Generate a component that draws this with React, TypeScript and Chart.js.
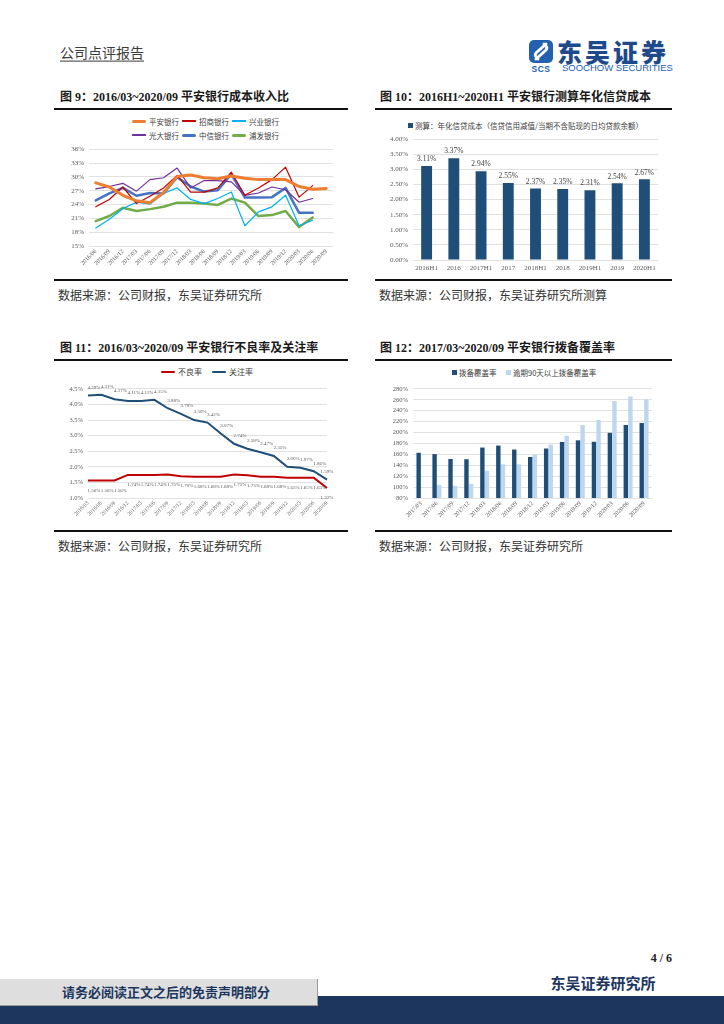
import React, { useEffect, useRef } from 'react';
import { Chart, registerables } from 'chart.js';

Chart.register(...registerables);

const SERIF = '"Liberation Serif", "Times New Roman", "Noto Sans CJK SC", serif';
const CJK = '"Noto Sans CJK SC", "Liberation Serif", serif';
const GRID = '#D9D9D9';
const TICK = '#595959';

// ---------- 图 9 成本收入比 ----------
const fig9Quarters = ['2016/06', '2016/09', '2016/12', '2017/03', '2017/06', '2017/09', '2017/12', '2018/03', '2018/06', '2018/09', '2018/12', '2019/03', '2019/06', '2019/09', '2019/12', '2020/03', '2020/06', '2020/09'];
const fig9PingAn = [28.7, 27.8, 26.0, 24.8, 24.4, 26.6, 30.1, 30.4, 29.8, 29.6, 30.2, 29.7, 29.4, 29.4, 29.4, 27.9, 27.3, 27.5];
const fig9Cmb = [23.5, 25.1, 27.8, 24.2, 25.8, 27.6, 30.3, 26.7, 26.7, 27.6, 31.0, 26.0, 27.6, 29.4, 32.1, 25.6, 28.1, null];
const fig9Cib = [18.9, 20.8, 23.1, 24.5, 24.1, 26.4, 27.6, 25.1, 24.2, 25.3, 26.7, 19.4, 22.4, 23.5, 26.0, 19.4, 20.6, null];
const fig9Ceb = [27.4, 27.9, 28.6, 26.9, 29.4, 29.8, 31.9, 27.6, 29.2, 29.2, 28.9, 26.0, 26.5, 27.8, 27.2, 24.5, 25.3, null];
const fig9Citic = [24.9, 26.4, 27.6, 25.9, 26.5, 26.4, 29.9, 27.9, 26.8, 27.1, 30.6, 25.5, 25.5, 25.6, 27.6, 22.2, 22.2, null];
const fig9Spdb = [20.4, 21.5, 23.3, 22.6, 23.0, 23.5, 24.4, 24.4, 24.2, 23.9, 25.3, 24.4, 21.5, 21.7, 22.6, 19.1, 21.2, null];
const fig9Names = ['平安银行', '招商银行', '兴业银行', '光大银行', '中信银行', '浦发银行'];
const fig9Colors = ['#ED7D31', '#C00000', '#00B0F0', '#7030A0', '#4472C4', '#70AD47'];
const fig9Widths = [3, 1.2, 1.2, 1.2, 2.5, 2.5];

// ---------- 图 10 年化信贷成本 ----------
const fig10Periods = ['2016H1', '2016', '2017H1', '2017', '2018H1', '2018', '2019H1', '2019', '2020H1'];
const fig10CreditCost = [3.11, 3.37, 2.94, 2.55, 2.37, 2.35, 2.31, 2.54, 2.67];
const fig10Legend = '测算：年化信贷成本（信贷信用减值/当期不含贴现的日均贷款余额）';

// ---------- 图 11 不良率及关注率 ----------
const fig11Quarters = ['2016/03', '2016/06', '2016/09', '2016/12', '2017/03', '2017/06', '2017/09', '2017/12', '2018/03', '2018/06', '2018/09', '2018/12', '2019/03', '2019/06', '2019/09', '2019/12', '2020/03', '2020/06', '2020/09'];
const fig11Npl = [1.56, 1.56, 1.56, 1.74, 1.74, 1.74, 1.75, 1.70, 1.68, 1.68, 1.68, 1.75, 1.73, 1.68, 1.68, 1.65, 1.65, 1.65, 1.32];
const fig11SpecialMention = [4.29, 4.31, 4.17, 4.11, 4.11, 4.15, 3.88, 3.70, 3.50, 3.42, 3.07, 2.74, 2.58, 2.47, 2.35, 2.00, 1.97, 1.86, 1.59];
const fig11Names = ['不良率', '关注率'];

// ---------- 图 12 拨备覆盖率 ----------
const fig12Quarters = ['2017/03', '2017/06', '2017/09', '2017/12', '2018/03', '2018/06', '2018/09', '2018/12', '2019/03', '2019/06', '2019/09', '2019/12', '2020/03', '2020/06', '2020/09'];
const fig12Coverage = [162.9, 160.5, 151.5, 151.1, 172.5, 176.1, 168.9, 155.2, 170.7, 182.7, 185.7, 183.1, 199.5, 213.9, 217.5];
const fig12Overdue90 = [null, 104.0, 102.2, 105.8, 129.8, 141.9, 141.9, 159.3, 177.9, 194.1, 213.9, 222.9, 257.8, 266.2, 260.8];
const fig12Names = ['拨备覆盖率', '逾期90天以上拨备覆盖率'];

function yAxis(min: number, max: number, step: number, fmt: (v: number) => string, width: number, size: number) {
  return {
    min,
    max,
    ticks: { stepSize: step, callback: (v: any) => fmt(Number(v)), font: { family: SERIF, size }, color: TICK, padding: 5 },
    grid: { color: GRID, lineWidth: 0.8, drawTicks: false },
    border: { display: false },
    afterFit: (s: any) => { s.width = width; },
  };
}

function xAxis(height: number, size: number, rotate: boolean, offset: boolean) {
  return {
    offset,
    ticks: {
      autoSkip: false,
      minRotation: rotate ? 45 : 0,
      maxRotation: rotate ? 45 : 0,
      font: { family: SERIF, size },
      color: TICK,
      padding: rotate ? 2 : 4,
    },
    grid: { display: false, drawTicks: false },
    border: { display: false },
    afterFit: (s: any) => { s.height = height; },
  };
}

const barLabelPlugin = {
  id: 'barLabels',
  afterDatasetsDraw(chart: any) {
    const ctx = chart.ctx;
    const meta = chart.getDatasetMeta(0);
    ctx.save();
    ctx.font = `7.5px ${SERIF}`;
    ctx.fillStyle = '#404040';
    ctx.textAlign = 'center';
    ctx.textBaseline = 'bottom';
    meta.data.forEach((el: any, i: number) => {
      ctx.fillText(fig10CreditCost[i].toFixed(2) + '%', el.x, el.y - 3);
    });
    ctx.restore();
  },
};

const lineLabelPlugin = {
  id: 'lineLabels',
  afterDatasetsDraw(chart: any) {
    const ctx = chart.ctx;
    ctx.save();
    ctx.font = `5px ${SERIF}`;
    ctx.fillStyle = '#595959';
    ctx.textAlign = 'center';
    ctx.textBaseline = 'middle';
    chart.data.datasets.forEach((ds: any, di: number) => {
      const meta = chart.getDatasetMeta(di);
      const dy = ds.labelDy as number;
      meta.data.forEach((el: any, i: number) => {
        const v = ds.data[i];
        if (v == null) return;
        const last = i === meta.data.length - 1;
        ctx.fillText(v.toFixed(2) + '%', el.x + (last ? 0 : 6), el.y + dy);
      });
    });
    ctx.restore();
  },
};

function ChartCanvas({ left, top, width, height, make }: { left: number; top: number; width: number; height: number; make: () => any }) {
  const ref = useRef<HTMLCanvasElement>(null);
  useEffect(() => {
    const chart = new Chart(ref.current as HTMLCanvasElement, make());
    return () => chart.destroy();
  }, []);
  return <canvas ref={ref} width={width} height={height} style={{ position: 'absolute', left, top, width, height }} />;
}

const baseOptions = (padding: any) => ({
  responsive: false,
  animation: false,
  devicePixelRatio: 1,
  layout: { padding },
  plugins: { legend: { display: false }, tooltip: { enabled: false } },
});

function makeFig9() {
  const series = [fig9PingAn, fig9Cmb, fig9Cib, fig9Ceb, fig9Citic, fig9Spdb];
  return {
    type: 'line',
    data: {
      labels: fig9Quarters,
      datasets: series.map((d, i) => ({
        label: fig9Names[i],
        data: d,
        borderColor: fig9Colors[i],
        borderWidth: fig9Widths[i],
        pointRadius: 0,
        tension: 0,
        borderJoinStyle: 'round',
        borderCapStyle: 'round',
        fill: false,
      })),
    },
    options: {
      ...baseOptions({ top: 8, right: 12, bottom: 2, left: 0 }),
      scales: {
        x: xAxis(32, 6, true, true),
        y: yAxis(15, 36, 3, (v) => Math.round(v) + '%', 34, 7),
      },
    },
  };
}

function makeFig10() {
  return {
    type: 'bar',
    data: {
      labels: fig10Periods,
      datasets: [{ label: fig10Legend, data: fig10CreditCost, backgroundColor: '#1F4E79', categoryPercentage: 0.8, barPercentage: 0.5 }],
    },
    options: {
      ...baseOptions({ top: 8, right: 12, bottom: 0, left: 0 }),
      scales: {
        x: xAxis(20, 7, false, true),
        y: yAxis(0, 4, 0.5, (v) => v.toFixed(2) + '%', 33, 7),
      },
    },
    plugins: [barLabelPlugin],
  };
}

function makeFig11() {
  return {
    type: 'line',
    data: {
      labels: fig11Quarters,
      datasets: [
        { label: fig11Names[0], data: fig11Npl, borderColor: '#C00000', borderWidth: 2, pointRadius: 0, tension: 0, labelDy: 10 },
        { label: fig11Names[1], data: fig11SpecialMention, borderColor: '#1F4E79', borderWidth: 2, pointRadius: 0, tension: 0, labelDy: -8 },
      ],
    },
    options: {
      ...baseOptions({ top: 7, right: 18, bottom: 0, left: 0 }),
      scales: {
        x: xAxis(32, 5.5, true, false),
        y: yAxis(1, 4.5, 0.5, (v) => v.toFixed(1) + '%', 33, 6.5),
      },
    },
    plugins: [lineLabelPlugin],
  };
}

function makeFig12() {
  return {
    type: 'bar',
    data: {
      labels: fig12Quarters,
      datasets: [
        { label: fig12Names[0], data: fig12Coverage, backgroundColor: '#1F4E79', categoryPercentage: 0.58, barPercentage: 0.95 },
        { label: fig12Names[1], data: fig12Overdue90, backgroundColor: '#BDD7EE', categoryPercentage: 0.58, barPercentage: 0.95 },
      ],
    },
    options: {
      ...baseOptions({ top: 7, right: 18, bottom: 0, left: 0 }),
      scales: {
        x: xAxis(32, 6, true, true),
        y: yAxis(80, 280, 20, (v) => Math.round(v) + '%', 33, 6.5),
      },
    },
  };
}

function T({ x, y, size, children, bold, color, family, align, style }: any) {
  const tr = align === 'right' ? 'translate(-100%,-50%)' : align === 'center' ? 'translate(-50%,-50%)' : 'translateY(-50%)';
  return (
    <div
      style={{
        position: 'absolute',
        left: x,
        top: y,
        transform: tr,
        fontSize: size,
        lineHeight: 1.2,
        fontWeight: bold ? 700 : 400,
        color: color || '#222',
        fontFamily: family || SERIF,
        whiteSpace: 'nowrap',
        ...style,
      }}
    >
      {children}
    </div>
  );
}

function Rule({ x, y, w }: { x: number; y: number; w: number }) {
  return <div style={{ position: 'absolute', left: x, top: y, width: w, height: 2, background: '#111' }} />;
}

function LegendLine({ x, y, color, lw, text, size }: any) {
  return (
    <>
      <div style={{ position: 'absolute', left: x, top: y - lw / 2, width: 14, height: lw, background: color, borderRadius: lw / 2 }} />
      <T x={x + 17} y={y} size={size} color="#404040" family={CJK}>{text}</T>
    </>
  );
}

function LegendBox({ x, y, color, text, size }: any) {
  return (
    <>
      <div style={{ position: 'absolute', left: x, top: y - 2.5, width: 5, height: 5, background: color }} />
      <T x={x + 7} y={y} size={size} color="#404040" family={CJK}>{text}</T>
    </>
  );
}

export default function App() {
  const fig9Pos = [132, 182, 232];
  return (
    <div style={{ position: 'absolute', left: 0, top: 0, width: 724, height: 1024, background: '#fff', overflow: 'hidden' }}>
      {/* header */}
      <T x={60} y={52} size={14} color="#3a3a3a" family={CJK} style={{ textDecoration: 'underline', textUnderlineOffset: 3 }}>公司点评报告</T>
      <svg style={{ position: 'absolute', left: 528, top: 40 }} width={26} height={33} viewBox="0 0 26 33">
        <rect x="1" y="0" width="24" height="23" rx="5" fill="#2361B0" />
        <path d="M18 4 L8.5 12.5 Q6 15 8.5 17.5 L10 19" stroke="#fff" strokeWidth="3" fill="none" strokeLinecap="round" />
        <path d="M8 19 L17.5 10.5 Q20 8 17.5 5.5 L16 4" stroke="#fff" strokeWidth="3" fill="none" strokeLinecap="round" />
        <text x="13" y="31.5" fontSize="8.5" fontWeight="bold" fill="#2361B0" textAnchor="middle" fontFamily="Liberation Sans, Arial" letterSpacing="0.5">SCS</text>
      </svg>
      <T x={557} y={51} size={25} color="#1E4A8C" family={CJK} style={{ fontWeight: 900, letterSpacing: 3 }}>东吴证券</T>
      <T x={562} y={68} size={9.5} color="#2361B0" family='"Liberation Sans", Arial, sans-serif'>SOOCHOW SECURITIES</T>

      {/* figure titles */}
      <T x={60} y={97} size={12} bold color="#1a1a1a">图 9：2016/03~2020/09 平安银行成本收入比</T>
      <T x={380} y={97} size={12} bold color="#1a1a1a">图 10：2016H1~2020H1 平安银行测算年化信贷成本</T>
      <T x={60} y={348} size={12} bold color="#1a1a1a">图 11：2016/03~2020/09 平安银行不良率及关注率</T>
      <T x={380} y={348} size={12} bold color="#1a1a1a">图 12：2017/03~2020/09 平安银行拨备覆盖率</T>

      <Rule x={54} y={108} w={294} />
      <Rule x={375} y={108} w={297} />
      <Rule x={54} y={279} w={294} />
      <Rule x={375} y={279} w={297} />
      <Rule x={54} y={359} w={294} />
      <Rule x={375} y={359} w={297} />
      <Rule x={54} y={530} w={294} />
      <Rule x={375} y={530} w={297} />

      {/* figure 9 */}
      {fig9Names.map((n, i) => (
        <LegendLine key={n} x={fig9Pos[i % 3]} y={i < 3 ? 121 : 135} color={fig9Colors[i]} lw={fig9Widths[i] > 2 ? 3 : 1.2} text={n} size={7.5} />
      ))}
      <ChartCanvas left={55} top={140} width={290} height={140} make={makeFig9} />

      {/* figure 10 */}
      <LegendBox x={408} y={125} color="#1F4E79" text={fig10Legend} size={7.5} />
      <ChartCanvas left={380} top={130} width={290} height={150} make={makeFig10} />

      {/* figure 11 */}
      <LegendLine x={161} y={372} color="#C00000" lw={2} text={fig11Names[0]} size={8} />
      <LegendLine x={212} y={372} color="#1F4E79" lw={2} text={fig11Names[1]} size={8} />
      <ChartCanvas left={55} top={380} width={290} height={150} make={makeFig11} />

      {/* figure 12 */}
      <LegendBox x={452} y={372} color="#1F4E79" text={fig12Names[0]} size={7.5} />
      <LegendBox x={506} y={372} color="#BDD7EE" text={fig12Names[1]} size={7.5} />
      <ChartCanvas left={380} top={380} width={290} height={150} make={makeFig12} />

      {/* sources */}
      <T x={58} y={295} size={12} color="#333" family={CJK}>数据来源：公司财报，东吴证券研究所</T>
      <T x={379} y={295} size={12} color="#333" family={CJK}>数据来源：公司财报，东吴证券研究所测算</T>
      <T x={58} y={546} size={12} color="#333" family={CJK}>数据来源：公司财报，东吴证券研究所</T>
      <T x={379} y={546} size={12} color="#333" family={CJK}>数据来源：公司财报，东吴证券研究所</T>

      {/* footer */}
      <T x={672} y={958} size={12} bold color="#222" align="right">4 / 6</T>
      <div style={{ position: 'absolute', left: 0, top: 996, width: 724, height: 28, background: '#1C365E' }} />
      <div style={{ position: 'absolute', left: 0, top: 979, width: 317, height: 26, background: '#DEDEDE', borderRight: '1px solid #9a9a9a', borderBottom: '1px solid #9a9a9a' }} />
      <T x={166} y={992} size={13} bold color="#1C365E" family={CJK} align="center">请务必阅读正文之后的免责声明部分</T>
      <T x={603} y={983} size={15} bold color="#1C365E" family={CJK} align="center">东吴证券研究所</T>
    </div>
  );
}
